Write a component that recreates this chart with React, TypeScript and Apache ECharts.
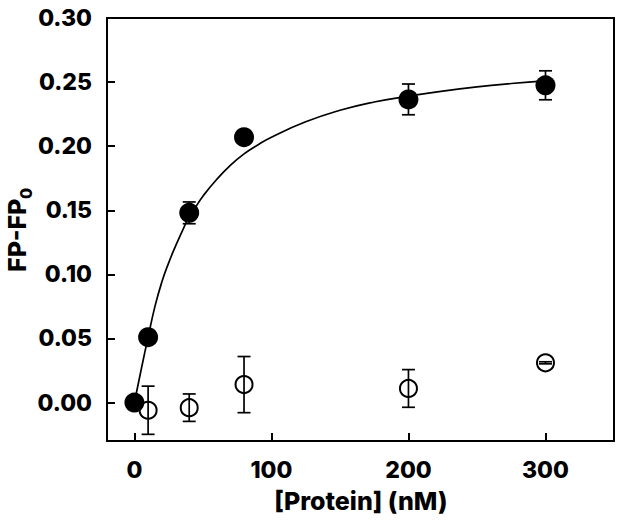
import React, { useEffect, useRef } from "react";
import * as echarts from "echarts";

// Filled circles
const boundX = [0, 10, 40, 80, 200, 300];
const boundY = [0.0, 0.051, 0.148, 0.207, 0.2365, 0.2475];
const boundErr = [0, 0, 0.0085, 0, 0.012, 0.0113];

// Open circles
const ctrlX = [10, 40, 80, 200, 300];
const ctrlY = [-0.006, -0.004, 0.014, 0.011, 0.031];
const ctrlErr = [0.0188, 0.0107, 0.0219, 0.0147, 0.0008];

// Fitted curve
const curveX = [0, 5, 10, 15, 20, 25, 30, 35, 40, 45, 50, 60, 70, 80, 90, 100, 125, 150, 175, 200, 225, 250, 275, 300];
const curveY = [0, 0.026, 0.051, 0.075, 0.094, 0.109, 0.122, 0.134, 0.145, 0.153, 0.161, 0.174, 0.185, 0.194, 0.201, 0.207, 0.219, 0.228, 0.2345, 0.239, 0.243, 0.2463, 0.2489, 0.251];

const xTicks = [0, 100, 200, 300];
const yTicks = [0, 0.05, 0.1, 0.15, 0.2, 0.25, 0.3];

const FONT = "Inter, 'Liberation Sans', Arial, sans-serif";

function errorBars(params: any, api: any) {
  const x = api.value(0);
  const y = api.value(1);
  const e = api.value(2);
  const top = api.coord([x, y + e]);
  const bot = api.coord([x, y - e]);
  const hw = 6.5;
  const style = { stroke: "#000", lineWidth: 1.7 };
  return {
    type: "group",
    children: [
      { type: "line", shape: { x1: top[0], y1: top[1], x2: bot[0], y2: bot[1] }, style },
      { type: "line", shape: { x1: top[0] - hw, y1: top[1], x2: top[0] + hw, y2: top[1] }, style },
      { type: "line", shape: { x1: bot[0] - hw, y1: bot[1], x2: bot[0] + hw, y2: bot[1] }, style },
    ],
  };
}

export default function App() {
  const ref = useRef<HTMLDivElement>(null);
  useEffect(() => {
    if (!ref.current) return;
    const chart = echarts.init(ref.current, null, { renderer: "svg" });
    const boundErrData = boundX.map((x, i) => [x, boundY[i], boundErr[i]]).filter((d) => d[2] > 0);
    const ctrlErrData = ctrlX.map((x, i) => [x, ctrlY[i], ctrlErr[i]]);
    const labelStyle = { color: "#000", fontFamily: FONT, fontWeight: 800, fontSize: 23 };
    chart.setOption({
      animation: false,
      grid: {
        left: 107,
        right: 10,
        top: 18,
        bottom: 88,
        show: true,
        borderColor: "#000",
        borderWidth: 2,
        backgroundColor: "transparent",
      },
      xAxis: {
        type: "value",
        min: -20,
        max: 350,
        axisLine: { show: true, onZero: false, lineStyle: { color: "#000", width: 2 } },
        axisTick: { show: true, inside: true, length: 8, customValues: xTicks, lineStyle: { color: "#000", width: 2 } },
        axisLabel: { ...labelStyle, margin: 17, customValues: xTicks },
        splitLine: { show: false },
      },
      yAxis: {
        type: "value",
        min: -0.03,
        max: 0.3,
        axisLine: { show: true, onZero: false, lineStyle: { color: "#000", width: 2 } },
        axisTick: { show: true, inside: true, length: 8, customValues: yTicks, lineStyle: { color: "#000", width: 2 } },
        axisLabel: { ...labelStyle, margin: 15, customValues: yTicks, formatter: (v: number) => v.toFixed(2) },
        splitLine: { show: false },
      },
      graphic: [
        {
          type: "text",
          x: 361,
          y: 501,
          style: { text: "[Protein] (nM)", fill: "#000", font: `800 25px ${FONT}`, textAlign: "center", textVerticalAlign: "middle" },
        },
        {
          type: "group",
          x: 17,
          y: 272,
          rotation: Math.PI / 2,
          children: [
            {
              type: "text",
              x: 0,
              y: 0,
              style: { text: "FP-FP", fill: "#000", font: `800 25px ${FONT}`, textAlign: "left", textVerticalAlign: "middle" },
            },
            {
              type: "text",
              x: 73,
              y: 9,
              style: { text: "0", fill: "#000", font: `800 16px ${FONT}`, textAlign: "left", textVerticalAlign: "middle" },
            },
          ],
        },
      ],
      series: [
        {
          type: "line",
          data: curveX.map((x, i) => [x, curveY[i]]),
          showSymbol: false,
          smooth: true,
          lineStyle: { color: "#000", width: 1.7 },
          z: 1,
        },
        {
          type: "custom",
          renderItem: errorBars,
          data: boundErrData,
          z: 2,
        },
        {
          type: "scatter",
          data: boundX.map((x, i) => [x, boundY[i]]),
          symbol: "circle",
          symbolSize: 20,
          itemStyle: { color: "#000", opacity: 1 },
          z: 3,
        },
        {
          type: "custom",
          renderItem: errorBars,
          data: ctrlErrData,
          z: 4,
        },
        {
          type: "scatter",
          data: ctrlX.map((x, i) => [x, ctrlY[i]]),
          symbol: "circle",
          symbolSize: 17,
          itemStyle: { color: "transparent", borderColor: "#000", borderWidth: 2, opacity: 1 },
          z: 5,
        },
      ],
    });
    return () => chart.dispose();
  }, []);
  return <div ref={ref} style={{ width: 624, height: 529, position: "absolute", left: 0, top: 0 }} />;
}
